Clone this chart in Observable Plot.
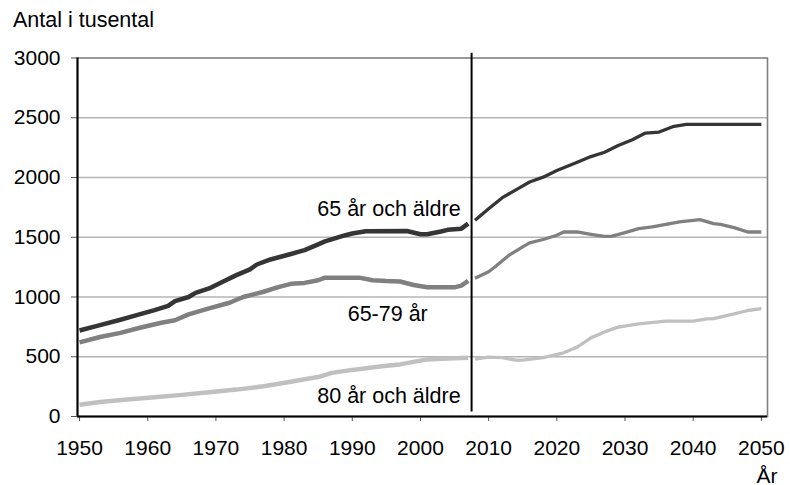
<!DOCTYPE html>
<html><head><meta charset="utf-8">
<script src="https://cdn.jsdelivr.net/npm/d3@7"></script>
<script src="https://cdn.jsdelivr.net/npm/@observablehq/plot@0.6"></script>
<style>
body{margin:0;background:#fff;font-family:"Liberation Sans",Arial,sans-serif;}
#title{height:40px;box-sizing:border-box;padding:10px 0 0 13px;font-size:21.5px;line-height:21px;color:#000;}
</style></head><body>
<div id="title">Antal i tusental</div>
<div id="chart"></div>
<script>
// 65 år och äldre — observed
const hist65plus = [[1950,720],[1953,765],[1956,810],[1958,842],[1961,890],[1963,925],[1964,965],[1966,1000],[1967,1035],[1969,1072],[1971,1128],[1973,1183],[1975,1231],[1976,1272],[1978,1314],[1981,1360],[1983,1392],[1985,1440],[1986,1465],[1989,1517],[1990,1531],[1992,1550],[1998,1552],[2000,1525],[2001,1525],[2003,1548],[2004,1562],[2006,1572],[2007,1614]];
// 65 år och äldre — projection
const proj65plus = [[2008,1642],[2010,1739],[2012,1831],[2014,1897],[2016,1962],[2018,2003],[2020,2058],[2023,2128],[2025,2175],[2027,2211],[2029,2267],[2031,2314],[2033,2372],[2035,2380],[2037,2425],[2039,2444],[2050,2444]];
// 65-79 år — observed
const hist6579 = [[1950,620],[1953,665],[1956,700],[1959,745],[1962,785],[1964,805],[1966,855],[1969,905],[1972,952],[1974,1000],[1977,1044],[1979,1081],[1981,1110],[1983,1118],[1985,1140],[1986,1162],[1991,1162],[1993,1140],[1995,1133],[1997,1130],[1999,1100],[2001,1081],[2005,1081],[2006,1095],[2007,1135]];
// 65-79 år — projection
const proj6579 = [[2008,1156],[2010,1211],[2011,1255],[2013,1350],[2015,1420],[2016,1453],[2018,1481],[2020,1517],[2021,1544],[2023,1544],[2025,1525],[2027,1508],[2028,1508],[2030,1539],[2032,1572],[2034,1586],[2036,1608],[2038,1628],[2041,1647],[2043,1614],[2044,1608],[2046,1581],[2048,1544],[2050,1544]];
// 80 år och äldre — observed
const hist80plus = [[1950,98],[1953,122],[1957,142],[1961,162],[1965,181],[1969,203],[1973,225],[1977,253],[1981,290],[1983,311],[1985,330],[1987,365],[1990,390],[1992,403],[1995,425],[1997,436],[2001,478],[2004,486],[2007,492]];
// 80 år och äldre — projection
const proj80plus = [[2008,480],[2010,497],[2012,492],[2014,472],[2015,472],[2018,492],[2021,533],[2023,581],[2025,658],[2027,708],[2029,748],[2032,775],[2036,798],[2040,798],[2042,817],[2043,819],[2046,858],[2048,887],[2050,903]];

const xDomain = [1949.7, 2050.9];
const yDomain = [0, 3000];
const xTicks = [1950,1960,1970,1980,1990,2000,2010,2020,2030,2040,2050];
const yTicks = [0,500,1000,1500,2000,2500,3000];
const gridValues = [500,1000,1500,2000,2500];
const forecastLine = [{year: 2007.5, from: 38, to: 3040}];
const seriesLabels = [
  {text: "65 år och äldre", year: 2005.9, value: 1674, anchor: "end"},
  {text: "65-79 år", year: 1995.2, value: 799, anchor: "middle"},
  {text: "80 år och äldre", year: 2005.9, value: 109, anchor: "end"}
];
const axisTitleX = ["År"];

const colDark = "#353535", colMid = "#808080", colLight = "#c0c0c0";
const wHist = 4.5, wProj = 3.3;
const X = d => d[0], Y = d => d[1];
const fmt = d => String(d);

const chart = Plot.plot({
  width: 790,
  height: 445,
  marginTop: 17.5,
  marginBottom: 69,
  marginLeft: 77,
  marginRight: 23,
  style: {fontSize: "21px", fontFamily: "'Liberation Sans', Arial, sans-serif", color: "#000", background: "#fff", overflow: "visible"},
  x: {domain: xDomain},
  y: {domain: yDomain},
  marks: [
    Plot.ruleY(gridValues, {stroke: "#b4b4b4", strokeWidth: 1.3}),
    Plot.frame({stroke: "#808080", strokeWidth: 1.6}),
    Plot.axisY({ticks: yTicks, tickSize: 6, tickPadding: 11, tickFormat: fmt, stroke: "#555", fill: "#000", label: null, fontSize: 21}),
    Plot.axisX({ticks: xTicks, tickSize: 5, tickPadding: 19, tickFormat: fmt, stroke: "#555", fill: "#000", label: null, fontSize: 21}),
    Plot.ruleY([yDomain[0]], {stroke: "#000", strokeWidth: 2}),
    Plot.ruleX([xDomain[0]], {stroke: "#000", strokeWidth: 2}),
    Plot.line(hist80plus, {x: X, y: Y, stroke: colLight, strokeWidth: wHist, strokeLinejoin: "round", strokeLinecap: "butt"}),
    Plot.line(proj80plus, {x: X, y: Y, stroke: colLight, strokeWidth: wProj, strokeLinejoin: "round", strokeLinecap: "butt"}),
    Plot.line(hist6579, {x: X, y: Y, stroke: colMid, strokeWidth: wHist, strokeLinejoin: "round", strokeLinecap: "butt"}),
    Plot.line(proj6579, {x: X, y: Y, stroke: colMid, strokeWidth: wProj, strokeLinejoin: "round", strokeLinecap: "butt"}),
    Plot.line(hist65plus, {x: X, y: Y, stroke: colDark, strokeWidth: wHist, strokeLinejoin: "round", strokeLinecap: "butt"}),
    Plot.line(proj65plus, {x: X, y: Y, stroke: colDark, strokeWidth: wProj, strokeLinejoin: "round", strokeLinecap: "butt"}),
    Plot.ruleX(forecastLine, {x: "year", y1: "from", y2: "to", stroke: "#000", strokeWidth: 2}),
    Plot.text(seriesLabels.filter(d => d.anchor === "end"), {x: "year", y: "value", text: "text", textAnchor: "end", lineAnchor: "bottom", fontSize: 21.5, fill: "#000"}),
    Plot.text(seriesLabels.filter(d => d.anchor === "middle"), {x: "year", y: "value", text: "text", textAnchor: "middle", lineAnchor: "bottom", fontSize: 21.5, fill: "#000"}),
    Plot.text(axisTitleX, {frameAnchor: "bottom-right", textAnchor: "end", lineAnchor: "bottom", dx: 10, dy: 66, fontSize: 21, fill: "#000"})
  ]
});
document.getElementById("chart").appendChild(chart);
</script>
</body></html>
